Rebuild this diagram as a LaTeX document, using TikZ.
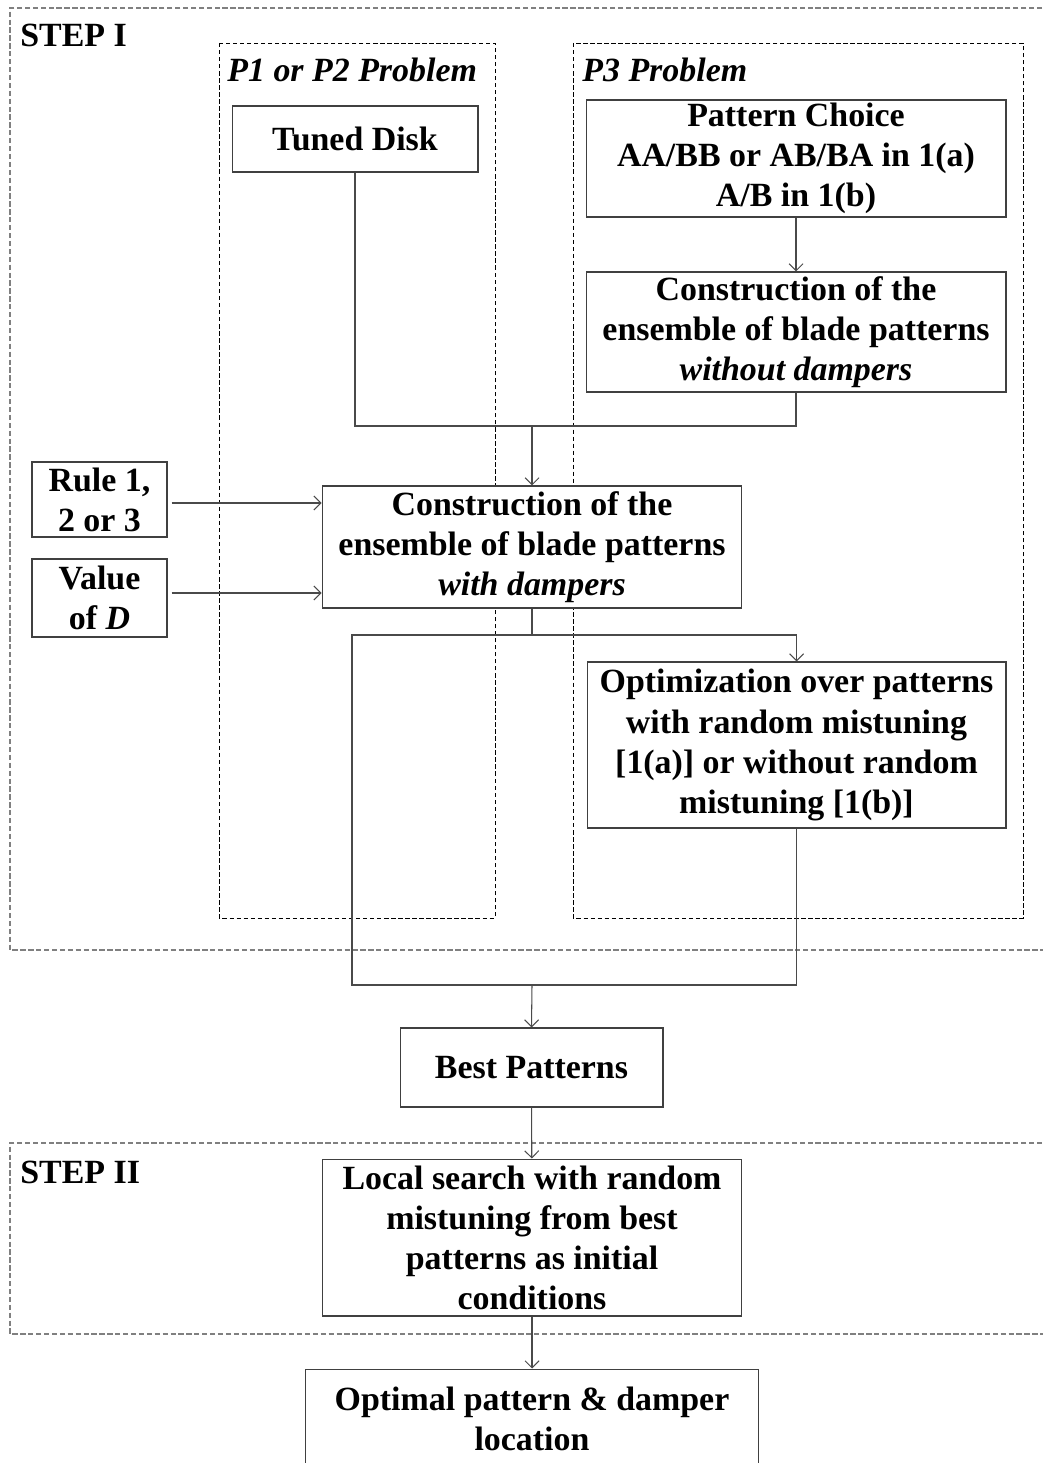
\documentclass[tikz,border=0pt]{standalone}
\usepackage{fontspec}
\setmainfont{Liberation Serif}
\usetikzlibrary{arrows.meta}
\definecolor{boxline}{HTML}{404040}
\definecolor{conn}{HTML}{4A4A4A}
\definecolor{stepdash}{HTML}{808080}
\begin{document}
\begin{tikzpicture}[x=0.02cm,y=-0.02cm,
  txt/.style={font=\fontsize{19.3}{22.8}\selectfont\bfseries},
  procbox/.style={txt,draw=boxline,fill=white,line width=0.6pt,align=center,inner sep=0pt},
  conline/.style={draw=conn,line width=0.6pt},
  arr/.style={conline,-{Straight Barb[length=1.4mm,width=2.8mm]}},
  stepframe/.style={draw=stepdash,line width=0.6pt,dash pattern=on 3pt off 1.5pt},
  probframe/.style={draw=black,line width=0.5pt,dash pattern=on 2.5pt off 1.5pt}]
\useasboundingbox (0,0) rectangle (1043,1463);
\clip (0,0) rectangle (1043,1463);
\fill[white] (0,0) rectangle (1043,1463);

% frames
\draw[stepframe] (1050,8) -- (10,8) -- (10,950) -- (1050,950);
\draw[stepframe] (1050,1143) -- (10,1143) -- (10,1334) -- (1050,1334);
\draw[probframe] (219,43) rectangle (495,918);
\draw[probframe] (573,43) rectangle (1023,918);

% labels
\node[txt,anchor=base west,inner sep=0pt] (s1) at (20,47) {STEP I};
\node[txt,anchor=base west,inner sep=0pt] (s2) at (20,1183) {STEP II};
\node[txt,anchor=base west,inner sep=0pt] (p12) at (227,82) {\itshape P1 or P2 Problem};
\node[txt,anchor=base west,inner sep=0pt] (p3) at (582,82) {\itshape P3 Problem};

% boxes
\node[procbox,minimum width=4.92cm,minimum height=1.32cm] (tuned) at (355,139) {Tuned Disk};
\node[procbox,minimum width=8.40cm,minimum height=2.34cm] (choice) at (796,158.5) {Pattern Choice\\AA/BB or AB/BA in 1(a)\\A/B in 1(b)};
\node[procbox,minimum width=8.40cm,minimum height=2.40cm] (without) at (796,332) {Construction of the\\ensemble of blade patterns\\\textit{without dampers}};
\node[procbox,minimum width=2.70cm,minimum height=1.50cm] (rule) at (99.5,499.5) {Rule 1,\\2 or 3};
\node[procbox,minimum width=2.70cm,minimum height=1.56cm] (value) at (99.5,598) {Value\\of \textit{D}};
\node[procbox,minimum width=8.40cm,minimum height=2.44cm] (with) at (532,547) {Construction of the\\ensemble of blade patterns\\\textit{with dampers}};
\node[procbox,minimum width=8.38cm,minimum height=3.32cm] (optim) at (796.5,745) {Optimization over patterns\\with random mistuning\\{[}1(a)] or without random\\mistuning [1(b)]};
\node[procbox,minimum width=5.26cm,minimum height=1.58cm] (best) at (531.5,1067.5) {Best Patterns};
\node[procbox,minimum width=8.40cm,minimum height=3.14cm] (local) at (532,1237.5) {Local search with random\\mistuning from best\\patterns as initial\\conditions};
\node[procbox,minimum width=9.08cm,minimum height=2.00cm] (optimal) at (532,1419) {Optimal pattern \& damper\\location};

% junctions
\coordinate (j1) at (532,426);
\coordinate (j2) at (532,635);
\coordinate (j3) at (352,985);
\coordinate (j4) at (532,985);

% connectors
\draw[arr] (choice) -- (without);
\draw[conline] (tuned.south) |- (j1);
\draw[conline] (without.south) |- (j1);
\draw[arr] (j1) -- (with.north);
\draw[arr] ([xshift=0.08cm]rule.east |- 0,503) -- (with.west |- 0,503);
\draw[arr] ([xshift=0.08cm]value.east |- 0,593) -- (with.west |- 0,593);
\draw[conline] (with.south) -- (j2);
\draw[conline] (j2) -| (j3) -- (j4);
\draw[arr] (j2) -| (optim.north);
\draw[conline] (optim.south) |- (j4);
\draw[arr] (j4) -- (best.north);
\draw[arr] (best) -- (local);
\draw[arr] (local) -- (optimal);
\end{tikzpicture}
\end{document}
